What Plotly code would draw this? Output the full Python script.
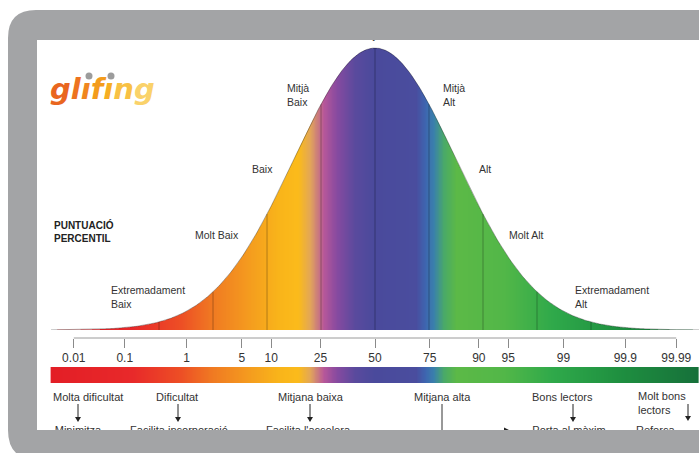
import numpy as np
import plotly.graph_objects as go
from statistics import NormalDist

W, H = 699, 453
nd = NormalDist()

# ---------------- data ----------------
percentile_ticks = [0.01, 0.1, 1, 5, 10, 25, 50, 75, 90, 95, 99, 99.9, 99.99]
tick_labels = ["0.01", "0.1", "1", "5", "10", "25", "50", "75", "90", "95", "99", "99.9", "99.99"]
band_cutoffs = [60, 70, 80, 90, 100, 110, 120, 130, 140]   # standard score, mean 100, sd 15
score_mean, score_sd = 100, 15
curve_labels = ["Mitjà", "Mitjà<br>Baix", "Baix", "Molt Baix", "Extremadament<br>Baix",
                "Mitjà<br>Alt", "Alt", "Molt Alt", "Extremadament<br>Alt"]
reader_groups = ["Molta dificultat", "Dificultat", "Mitjana baixa", "Mitjana alta",
                 "Bons lectors", "Molt bons<br>lectors"]
reader_actions = ["Minimitza", "Facilita incorporació", "Facilita l'accelera",
                  "Porta al màxim", "Reforça"]

# ---------------- helpers ----------------
def X(px):
    return px / W

def Y(py):
    return 1 - py / H

def P(x, y):
    return f"{X(x):.5f},{Y(y):.5f}"

color_stops = [(-4.0, "#e31e26"), (-3.0, "#e8292a"), (-2.4, "#ed4f25"), (-2.0, "#f07b22"),
               (-1.5, "#f5a01e"), (-1.2, "#f9b41a"), (-0.95, "#fbbb1b"), (-0.8, "#e2a65a"),
               (-0.64, "#b9589a"), (-0.47, "#864aa0"), (-0.25, "#5a4a9d"), (0.0, "#4a4a9c"),
               (0.5, "#4a4d9e"), (0.62, "#3e66b1"), (0.72, "#3a80ac"), (0.85, "#4aaa68"),
               (1.0, "#5cb947"), (1.6, "#52b748"), (2.2, "#2fa94a"), (3.0, "#1f9040"),
               (4.0, "#16703a")]
cscale = [[(z + 4) / 8, c] for z, c in color_stops]

z_grid = np.linspace(-4, 4, 801)
density = np.array([nd.pdf(v) for v in z_grid])
peak = nd.pdf(0)
y_top = peak * 330 / 282

fig = go.Figure()

# gradient under curve
fig.add_trace(go.Heatmap(x=z_grid, y=[0, y_top * 1.2], z=[z_grid, z_grid], colorscale=cscale,
                         zmin=-4, zmax=4, zsmooth="best", showscale=False, hoverinfo="skip",
                         xaxis="x", yaxis="y"))
# white mask above curve
mx = list(z_grid) + [4.05, 4.05, -4.05, -4.05]
my = list(density) + [0, y_top * 1.3, y_top * 1.3, 0]
fig.add_trace(go.Scatter(x=mx, y=my, fill="toself", fillcolor="white", mode="none",
                         hoverinfo="skip", xaxis="x", yaxis="y"))
# curve outline
fig.add_trace(go.Scatter(x=z_grid, y=density, mode="lines",
                         line=dict(color="rgba(0,0,0,0.3)", width=1), hoverinfo="skip",
                         xaxis="x", yaxis="y"))
# band lines
lx, ly = [], []
for s in band_cutoffs:
    zc = (s - score_mean) / score_sd
    lx += [zc, zc, None]
    ly += [0, nd.pdf(zc), None]
fig.add_trace(go.Scatter(x=lx, y=ly, mode="lines", line=dict(color="rgba(0,0,0,0.28)", width=1),
                         hoverinfo="skip", xaxis="x", yaxis="y"))
# gradient bar
fig.add_trace(go.Heatmap(x=z_grid, y=[0, 1], z=[z_grid, z_grid], colorscale=cscale,
                         zmin=-4, zmax=4, zsmooth="best", showscale=False, hoverinfo="skip",
                         xaxis="x", yaxis="y2"))

# clipped texts (pixel overlay axis so the frame can cover them)
clip_text = [("Mitjà", 370, 36.5, "middle center"),
             (reader_actions[0], 78, 431, "middle center"),
             (reader_actions[1], 179, 431, "middle center"),
             (reader_actions[2], 308, 431, "middle center"),
             (reader_actions[3], 569, 431, "middle center"),
             (reader_actions[4], 636, 431, "middle right")]
fig.add_trace(go.Scatter(x=[c[1] for c in clip_text], y=[c[2] for c in clip_text],
                         text=[c[0] for c in clip_text], mode="text",
                         textposition=[c[3] for c in clip_text],
                         textfont=dict(family="Liberation Sans", size=11, color="#333"),
                         hoverinfo="skip", xaxis="x3", yaxis="y3"))

tick_z = [nd.inv_cdf(p / 100) for p in percentile_ticks]

font_lab = dict(family="Liberation Sans", size=10.5, color="#333")
annotations = []
lab_pos = [None, (285, 95), (250, 169), (193, 235), (109, 297), (441, 95), (477, 169),
           (507, 235), (573, 297)]
for t, p in zip(curve_labels, lab_pos):
    if p is None:
        continue
    annotations.append(dict(text=t, x=X(p[0]), y=Y(p[1]), xref="paper", yref="paper",
                            xanchor="left", yanchor="middle", align="left", showarrow=False,
                            font=font_lab))
annotations.append(dict(text="<b>PUNTUACIÓ<br>PERCENTIL</b>", x=X(52), y=Y(232), xref="paper",
                        yref="paper", xanchor="left", yanchor="middle", align="left",
                        showarrow=False,
                        font=dict(family="Liberation Sans", size=10, color="#222")))
grp_pos = [(88, 397, "center"), (177, 397, "center"), (311, 397, "center"), (442, 397, "center"),
           (562, 397, "center"), (636, 403, "left")]
for t, p in zip(reader_groups, grp_pos):
    annotations.append(dict(text=t, x=X(p[0]), y=Y(p[1]), xref="paper", yref="paper",
                            xanchor=p[2], yanchor="middle", align="left", showarrow=False,
                            font=dict(family="Liberation Sans", size=11, color="#333")))
# logo
logo_cols = ["#e9661f", "#ed7320", "#f0861f", "#f39c1c", "#f6ae22", "#f8c144", "#fad26a"]
logo_chars = ["g", "l", "ı", "f", "ı", "n", "g"]
logo = "".join(f"<span style='color:{c}'>{ch}</span>" for ch, c in zip(logo_chars, logo_cols))
annotations.append(dict(text=f"<b><i>{logo}</i></b>", x=X(48), y=Y(89), xref="paper",
                        yref="paper", xanchor="left", yanchor="middle", showarrow=False,
                        font=dict(family="DejaVu Sans", size=29)))

shapes = []
# tick baseline
shapes.append(dict(type="line", xref="x", yref="paper", x0=tick_z[0], x1=tick_z[-1],
                   y0=Y(338), y1=Y(338), line=dict(color="#9a9a9a", width=1)))
# small down arrows
for ax_, tip in [(78, 422), (178, 422), (310, 422), (573, 422), (688, 421)]:
    shapes.append(dict(type="line", xref="paper", yref="paper", x0=X(ax_), x1=X(ax_),
                       y0=Y(404), y1=Y(tip - 3), line=dict(color="#222", width=1)))
    shapes.append(dict(type="path", xref="paper", yref="paper",
                       path=f"M {P(ax_ - 3, tip - 5)} L {P(ax_ + 3, tip - 5)} L {P(ax_, tip)} Z",
                       fillcolor="#222", line=dict(width=0)))
# Mitjana alta connector
shapes.append(dict(type="line", xref="paper", yref="paper", x0=X(442), x1=X(442),
                   y0=Y(404), y1=Y(431), line=dict(color="#333", width=1)))
shapes.append(dict(type="line", xref="paper", yref="paper", x0=X(442), x1=X(506),
                   y0=Y(431), y1=Y(431), line=dict(color="#333", width=1)))
shapes.append(dict(type="path", xref="paper", yref="paper",
                   path=f"M {P(504, 427.5)} L {P(511, 431)} L {P(504, 434.5)} Z",
                   fillcolor="#222", line=dict(width=0)))

# frame
r1, r2 = 28, 30
frame = (f"M {P(8, 10 + r1)} Q {P(8, 10)} {P(8 + r1, 10)} L {P(730, 10)} L {P(730, 460)} "
         f"L {P(8 + r2, 460)} Q {P(8, 460)} {P(8, 460 - r2)} Z "
         f"M {P(37, 40)} L {P(37, 430)} L {P(730, 430)} L {P(730, 40)} Z")
shapes.append(dict(type="path", xref="paper", yref="paper", path=frame, fillcolor="#a3a4a6",
                   fillrule="evenodd", line=dict(width=0), layer="above"))
# logo dots
for cx in (89, 111):
    shapes.append(dict(type="circle", xref="paper", yref="paper", x0=X(cx - 3.5), x1=X(cx + 3.5),
                       y0=Y(72.5), y1=Y(79.5), fillcolor="#9c9c9c", line=dict(width=0)))

fig.update_layout(
    width=W, height=H, margin=dict(l=0, r=0, t=0, b=0),
    paper_bgcolor="white", plot_bgcolor="rgba(0,0,0,0)", showlegend=False,
    xaxis=dict(range=[-4.63, 4.0], domain=[0, 1], anchor="free", position=Y(338),
               tickvals=tick_z, ticktext=tick_labels, ticks="outside", ticklen=9,
               tickcolor="#8a8a8a", tickwidth=1, showgrid=False, zeroline=False,
               showline=False, tickfont=dict(family="Liberation Sans", size=12, color="#333"),
               fixedrange=True),
    yaxis=dict(domain=[Y(330), 1], range=[0, y_top], visible=False, anchor="x"),
    yaxis2=dict(domain=[Y(383), Y(367)], range=[0, 1], visible=False, anchor="x"),
    xaxis3=dict(domain=[0, 1], range=[0, W], visible=False, anchor="y3"),
    yaxis3=dict(domain=[0, 1], range=[H, 0], visible=False, anchor="x3"),
    annotations=annotations, shapes=shapes,
)

fig.write_html("out.html", config={"displayModeBar": False},
               post_script="document.body.style.margin='0';document.body.style.padding='0';")
